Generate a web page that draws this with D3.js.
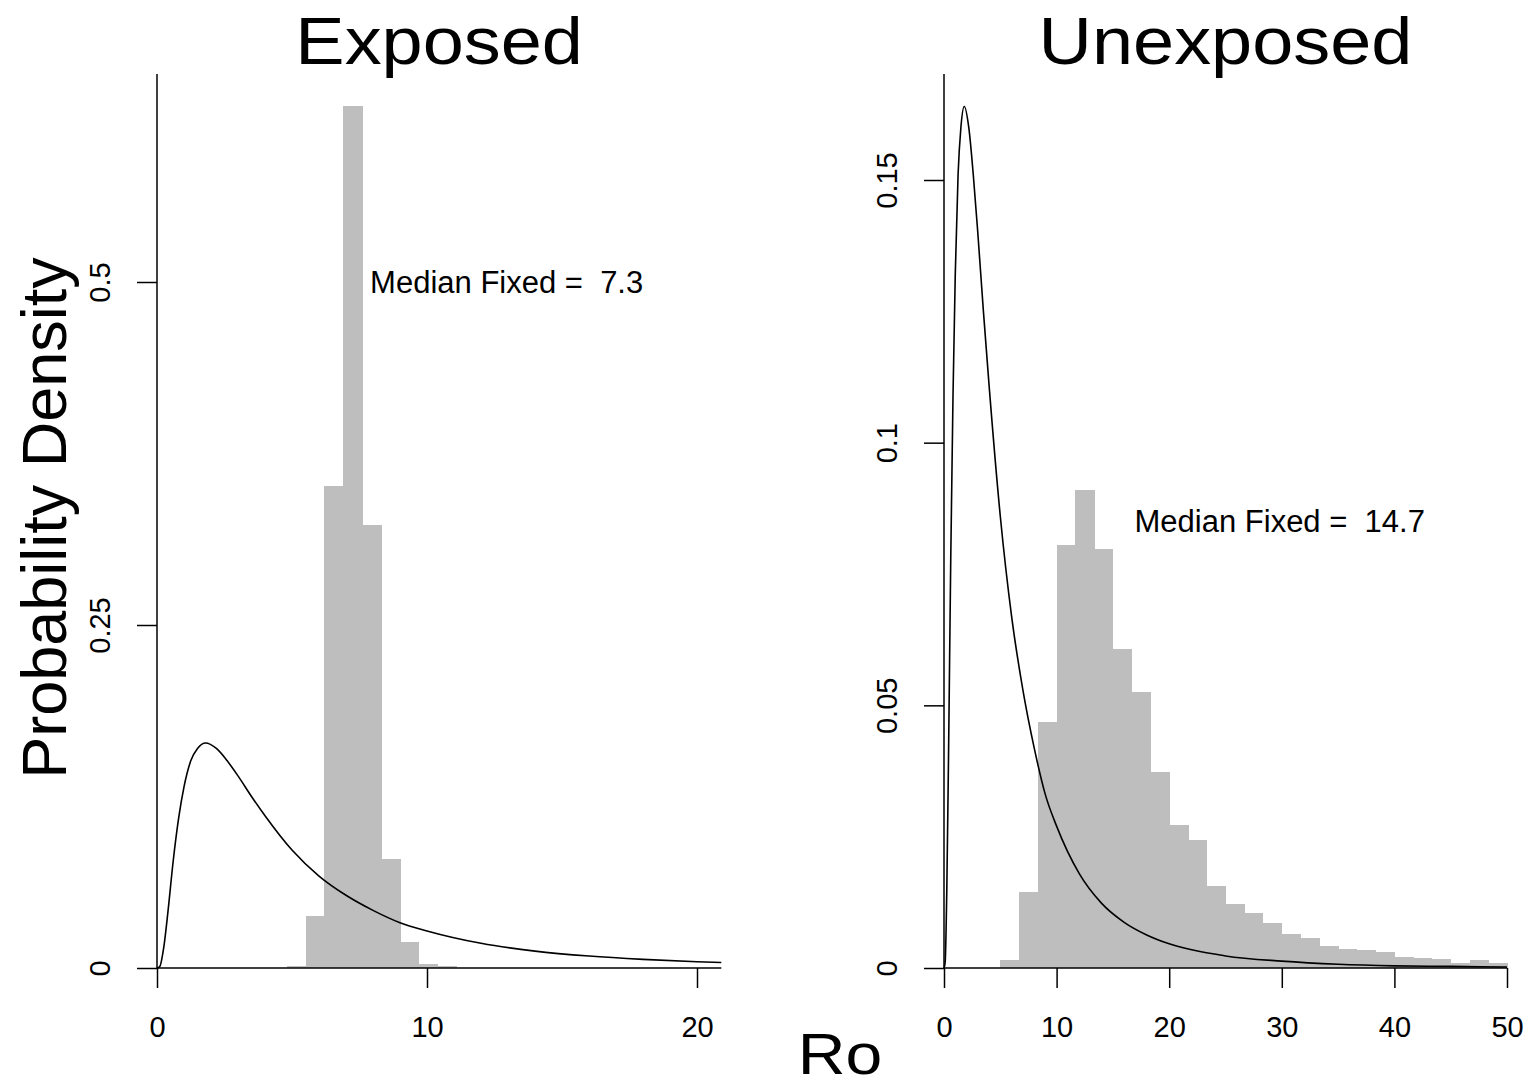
<!DOCTYPE html>
<html lang="en">
<head>
    <meta charset="UTF-8">
    <title>Exposed / Unexposed Ro</title>
    <script src="https://d3js.org/d3.v7.min.js"></script>
    <style>
        body { margin: 0; background: #fff; }
        text { font-family: "Liberation Sans", Arial, sans-serif; fill: #000; }
        .tick line, .axis-line { stroke: #000; stroke-width: 1.5; }
        .tick text { font-size: 29px; }
        .bar { fill: #bebebe; shape-rendering: crispEdges; }
        .prior { fill: none; stroke: #000; stroke-width: 1.6; }
        .note { font-size: 31px; white-space: pre; }
    </style>
</head>
<body>
    <script>
        // histogram of posterior draws, Exposed
        const exposedBreaks = [4.8, 5.5, 6.2, 6.9, 7.6, 8.3, 9.0, 9.7, 10.4, 11.1];
        const exposedDensity = [0.0017, 0.0377, 0.351, 0.6285, 0.323, 0.0794, 0.019, 0.0027, 0.0012];

        // histogram of posterior draws, Unexposed
        const unexposedBreaks = [5, 6.67, 8.33, 10, 11.67, 13.33, 15, 16.67, 18.33, 20, 21.67, 23.33, 25,
            26.67, 28.33, 30, 31.67, 33.33, 35, 36.67, 38.33, 40, 41.67, 43.33, 45, 46.67, 48.33, 50];
        const unexposedDensity = [0.0016, 0.0145, 0.0468, 0.0806, 0.0909, 0.0797, 0.0608, 0.0525, 0.0373,
            0.0272, 0.0244, 0.0156, 0.0122, 0.0105, 0.0086, 0.0065, 0.0057, 0.0042, 0.0037, 0.0034,
            0.0031, 0.0020, 0.0019, 0.0018, 0.0010, 0.0016, 0.0009];

        // prior density curve
        const priorX = [0, 0.1, 0.25, 0.4, 0.6, 0.8, 1, 1.25, 1.5, 1.8, 2.2, 2.6, 3, 3.5, 4, 5, 6, 7, 8, 9,
            10, 12, 14, 16, 18, 20, 20.9];
        const priorExposed = [0, 0.001, 0.015, 0.040, 0.078, 0.109, 0.132, 0.151, 0.160, 0.164, 0.160,
            0.151, 0.140, 0.125, 0.111, 0.086, 0.067, 0.053, 0.042, 0.033, 0.027, 0.018, 0.0123, 0.0087,
            0.0063, 0.0046, 0.0040];
        const priorXWide = [0, 0.1, 0.25, 0.4, 0.6, 0.8, 1, 1.25, 1.5, 1.8, 2.2, 2.6, 3, 3.5, 4, 5, 6, 7, 8,
            9, 10, 12, 14, 16, 18, 20, 25, 30, 35, 40, 45, 50];
        const priorUnexposed = [0, 0.001, 0.015, 0.040, 0.078, 0.109, 0.132, 0.151, 0.160, 0.164, 0.160,
            0.151, 0.140, 0.125, 0.111, 0.086, 0.067, 0.053, 0.042, 0.033, 0.027, 0.018, 0.0123, 0.0087,
            0.0063, 0.0046, 0.0023, 0.0013, 0.0007, 0.0004, 0.0003, 0.0002];

        const titles = ["Exposed", "Unexposed"];
        const medians = [7.3, 14.7];
        const xTicksExposed = [0, 10, 20];
        const xTicksUnexposed = [0, 10, 20, 30, 40, 50];
        const yTicksExposed = [0, 0.25, 0.5];
        const yTicksUnexposed = [0, 0.05, 0.1, 0.15];

        const svg = d3.select("body").append("svg")
            .attr("width", 1531)
            .attr("height", 1087);

        const baseY = 968, topY = 74;

        const panels = [
            {
                title: titles[0], median: medians[0],
                x: d3.scaleLinear().domain([0, 20]).range([157, 697]),
                y: d3.scaleLinear().domain([0, 0.5]).range([baseY, 282]),
                xMax: 20.9, xTicks: xTicksExposed, yTicks: yTicksExposed,
                breaks: exposedBreaks, dens: exposedDensity,
                cx: priorX, cy: priorExposed,
                note: [7.3, 0.5], noteShift: 16
            },
            {
                title: titles[1], median: medians[1],
                x: d3.scaleLinear().domain([0, 50]).range([944, 1507]),
                y: d3.scaleLinear().domain([0, 0.15]).range([baseY, 180]),
                xMax: 50, xTicks: xTicksUnexposed, yTicks: yTicksUnexposed,
                breaks: unexposedBreaks, dens: unexposedDensity,
                cx: priorXWide, cy: priorUnexposed,
                note: [14.7, 0.085], noteShift: 25
            }
        ];

        panels.forEach(p => {
            const g = svg.append("g");
            const bins = p.dens.map((d, i) => ({ x0: p.breaks[i], x1: p.breaks[i + 1], d }));

            g.selectAll("rect.bar")
                .data(bins)
                .enter().append("rect")
                .attr("class", "bar")
                .attr("x", b => p.x(b.x0))
                .attr("width", b => p.x(b.x1) - p.x(b.x0) + 0.5)
                .attr("y", b => p.y(b.d))
                .attr("height", b => p.y(0) - p.y(b.d));

            const line = d3.line()
                .x((d, i) => p.x(p.cx[i]))
                .y(d => p.y(d))
                .curve(d3.curveMonotoneX);
            g.append("path")
                .attr("class", "prior")
                .attr("d", line(p.cy));

            // axis lines run past the last tick
            g.append("line").attr("class", "axis-line")
                .attr("x1", p.x(0)).attr("x2", p.x(p.xMax))
                .attr("y1", p.y(0)).attr("y2", p.y(0));
            g.append("line").attr("class", "axis-line")
                .attr("x1", p.x(0)).attr("x2", p.x(0))
                .attr("y1", p.y(0)).attr("y2", topY);

            const xa = g.append("g")
                .attr("transform", `translate(0,${p.y(0)})`)
                .call(d3.axisBottom(p.x).tickValues(p.xTicks).tickSize(20).tickPadding(28).tickFormat(d => d));
            xa.select(".domain").remove();

            const ya = g.append("g")
                .attr("transform", `translate(${p.x(0)},0)`)
                .call(d3.axisLeft(p.y).tickValues(p.yTicks).tickSize(20).tickFormat(d => d));
            ya.select(".domain").remove();
            ya.selectAll(".tick text")
                .attr("x", 0).attr("dy", "0.35em")
                .attr("text-anchor", "middle")
                .attr("transform", "translate(-57,0) rotate(-90)");

            const cx = (p.x(0) + p.x(p.xMax)) / 2;
            svg.append("text")
                .attr("transform", `translate(${cx},64) scale(1.12,1)`)
                .attr("text-anchor", "middle")
                .style("font-size", "66px")
                .text(p.title);

            svg.append("text")
                .attr("class", "note")
                .attr("x", p.x(p.note[0]) + p.noteShift)
                .attr("y", p.y(p.note[1]))
                .attr("dy", "0.35em")
                .text("Median Fixed =  " + p.median);
        });

        svg.append("text")
            .attr("transform", "translate(66,518) rotate(-90)")
            .attr("text-anchor", "middle")
            .style("font-size", "63px")
            .text("Probability Density");

        svg.append("text")
            .attr("transform", "translate(840,1074) scale(1.16,1)")
            .attr("text-anchor", "middle")
            .style("font-size", "57px")
            .text("Ro");
    </script>
</body>
</html>
